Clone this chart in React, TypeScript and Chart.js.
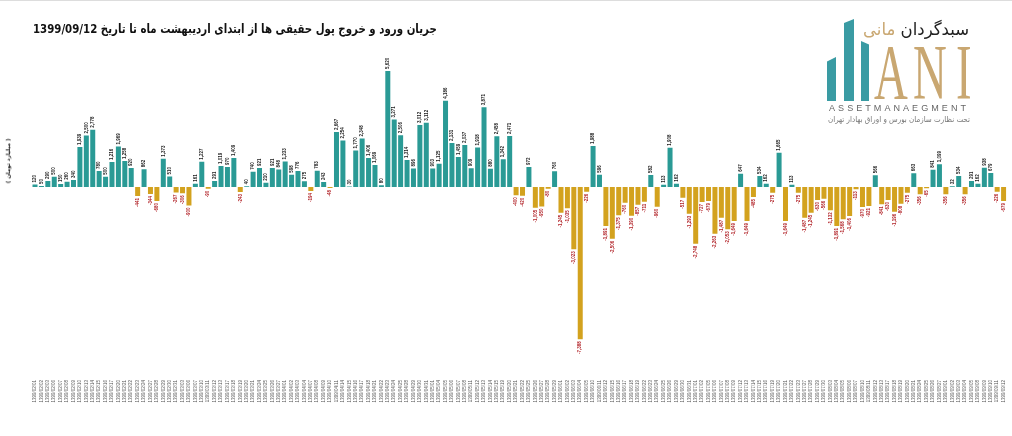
import { useEffect, useRef, useState } from 'react';
import type { CSSProperties, ReactNode } from 'react';
import { Chart, registerables } from 'chart.js';

Chart.register(...registerables);

// trading days, 1399/02/01 .. 1399/09/12
const dates = [
  '1399/02/01', '1399/02/02', '1399/02/03', '1399/02/06', '1399/02/07', '1399/02/08', '1399/02/09', '1399/02/10',
  '1399/02/13', '1399/02/14', '1399/02/15', '1399/02/16', '1399/02/17', '1399/02/20', '1399/02/21', '1399/02/22',
  '1399/02/23', '1399/02/24', '1399/02/27', '1399/02/28', '1399/02/29', '1399/02/30', '1399/02/31',
  '1399/03/03', '1399/03/06', '1399/03/07', '1399/03/10', '1399/03/11', '1399/03/12', '1399/03/13', '1399/03/17',
  '1399/03/18', '1399/03/19', '1399/03/20', '1399/03/21', '1399/03/24', '1399/03/25', '1399/03/26', '1399/03/27',
  '1399/04/01', '1399/04/02', '1399/04/03', '1399/04/04', '1399/04/07', '1399/04/08', '1399/04/09', '1399/04/10',
  '1399/04/11', '1399/04/14', '1399/04/15', '1399/04/16', '1399/04/17', '1399/04/18', '1399/04/21', '1399/04/22',
  '1399/04/23', '1399/04/24', '1399/04/25', '1399/04/28', '1399/04/29', '1399/04/30', '1399/04/31',
  '1399/05/01', '1399/05/04', '1399/05/05', '1399/05/06', '1399/05/07', '1399/05/08', '1399/05/11', '1399/05/12',
  '1399/05/13', '1399/05/14', '1399/05/15', '1399/05/19', '1399/05/20', '1399/05/21', '1399/05/22', '1399/05/25',
  '1399/05/26', '1399/05/27', '1399/05/28', '1399/05/29',
  '1399/06/01', '1399/06/02', '1399/06/03', '1399/06/04', '1399/06/05', '1399/06/10', '1399/06/11', '1399/06/12',
  '1399/06/15', '1399/06/16', '1399/06/17', '1399/06/18', '1399/06/19', '1399/06/22', '1399/06/23', '1399/06/24',
  '1399/06/25', '1399/06/26', '1399/06/29', '1399/06/30', '1399/06/31',
  '1399/07/01', '1399/07/02', '1399/07/05', '1399/07/06', '1399/07/07', '1399/07/08', '1399/07/09', '1399/07/12',
  '1399/07/13', '1399/07/14', '1399/07/15', '1399/07/16', '1399/07/19', '1399/07/20', '1399/07/21', '1399/07/22',
  '1399/07/23', '1399/07/27', '1399/07/28', '1399/07/29', '1399/07/30',
  '1399/08/03', '1399/08/04', '1399/08/05', '1399/08/06', '1399/08/07', '1399/08/10', '1399/08/11', '1399/08/12',
  '1399/08/13', '1399/08/17', '1399/08/18', '1399/08/19', '1399/08/20', '1399/08/21', '1399/08/24', '1399/08/25',
  '1399/08/26', '1399/08/27',
  '1399/09/01', '1399/09/02', '1399/09/03', '1399/09/04', '1399/09/05', '1399/09/08', '1399/09/09', '1399/09/10',
  '1399/09/11', '1399/09/12',
];

// net real-investor money flow (billion toman)
const netFlow = [
  120, 50, 290, 500, 150, 260, 340, 1939, 2500, 2778, 780, 500, 1216, 1969, 1258, 920,
  -441, 862, -344, -680, 1373, 510, -267, -306, -900, 161, 1227, -90, 291, 1019, 970, 1409,
  -243, 40, 740, 921, 210, 921, 848, 1233, 598, 776, 275, -194, 783, 243, -48, 2667,
  2254, 30, 1770, 2348, 1406, 1069, 80, 5620, 3271, 2506, 1314, 896, 3012, 3112, 903, 1125,
  4186, 2131, 1459, 2037, 909, 1918, 3871, 880, 2458, 1342, 2471, -400, -420, 972, -1005, -950,
  -80, 760, -1245, -1035, -3023, -7388, -226, 1988, 596, -1891, -2506, -1375, -760, -1390, -857, -711,
  582, -960, 113, 1908, 162, -517, -1293, -2748, -727, -679, -2263, -1487, -2053, -1649, 647, -1649,
  -485, 534, 162, -275, 1665, -1649, 113, -275, -1487, -1245, -630, -566, -1132, -1891, -1568, -1406,
  -113, -970, -921, 566, -841, -630, -1196, -808, -275, 663, -356, -65, 841, 1099, -356, 32,
  534, -356, 291, 162, 938, 679, -226, -679,
];

const TEAL = '#2a9a95';
const GOLD = '#d3a21e';

const barLabels = {
  id: 'barLabels',
  afterDatasetsDraw(chart: any) {
    const { ctx } = chart;
    const meta = chart.getDatasetMeta(0);
    ctx.save();
    ctx.font = 'bold 4.5px "Liberation Sans"';
    ctx.textBaseline = 'middle';
    meta.data.forEach((bar: any, i: number) => {
      const v = netFlow[i];
      ctx.save();
      ctx.translate(bar.x, v >= 0 ? bar.y - 2 : bar.y + 2);
      ctx.rotate(-Math.PI / 2);
      ctx.textAlign = v >= 0 ? 'left' : 'right';
      ctx.fillStyle = v >= 0 ? '#222' : '#b3262b';
      ctx.fillText(v.toLocaleString('en-US'), 0, 0);
      ctx.restore();
    });
    ctx.restore();
  },
};

function FlowChart() {
  const canvasRef = useRef<HTMLCanvasElement>(null);
  const chartRef = useRef<Chart | null>(null);

  useEffect(() => {
    if (!canvasRef.current) return;
    if (chartRef.current) chartRef.current.destroy();

    chartRef.current = new Chart(canvasRef.current, {
      type: 'bar',
      data: {
        labels: dates,
        datasets: [
          {
            data: netFlow,
            backgroundColor: netFlow.map((v) => (v >= 0 ? TEAL : GOLD)),
            barPercentage: 0.78,
            categoryPercentage: 1,
          },
        ],
      },
      options: {
        responsive: false,
        animation: false,
        layout: { padding: { left: 31.8, right: 2.8, top: 60, bottom: 0 } },
        scales: {
          x: {
            grid: { display: false, drawTicks: false },
            border: { display: false },
            afterFit: (scale: any) => {
              scale.height = 60;
            },
            ticks: {
              autoSkip: false,
              minRotation: 90,
              maxRotation: 90,
              padding: 3,
              color: '#555',
              font: { size: 4.5, family: 'Liberation Sans' },
            },
          },
          y: { display: false, min: -9215, max: 6111 },
        },
        plugins: {
          legend: { display: false },
          tooltip: { enabled: false },
        },
      },
      plugins: [barLabels],
    });

    return () => {
      if (chartRef.current) {
        chartRef.current.destroy();
        chartRef.current = null;
      }
    };
  }, []);

  return (
    <canvas
      ref={canvasRef}
      width={1012}
      height={436}
      style={{ position: 'absolute', left: 0, top: 0, width: '1012px', height: '436px' }}
    />
  );
}

// text squeezed / stretched to a given box width, right edge anchored
function FitText({ right, top, width, style, rtl, children }: {
  right: number; top: number; width: number; style: CSSProperties; rtl?: boolean; children: ReactNode;
}) {
  const ref = useRef<HTMLDivElement>(null);
  const [sx, setSx] = useState(1);
  useEffect(() => {
    if (ref.current) {
      const w = ref.current.scrollWidth;
      if (w > 0) setSx(width / w);
    }
  }, [width]);
  return (
    <div
      ref={ref}
      dir={rtl ? 'rtl' : 'ltr'}
      style={{
        position: 'absolute',
        right: 1012 - right,
        top,
        whiteSpace: 'nowrap',
        transform: `scaleX(${sx})`,
        transformOrigin: 'right top',
        ...style,
      }}
    >
      {children}
    </div>
  );
}

function Logo() {
  const letter = (ch: string, left: number) => (
    <span
      style={{
        position: 'absolute',
        left,
        top: 32,
        fontFamily: '"Liberation Serif", serif',
        fontSize: 78,
        lineHeight: '78px',
        color: '#c9a771',
        transform: 'scaleX(0.6)',
        transformOrigin: 'left top',
      }}
    >
      {ch}
    </span>
  );
  return (
    <>
      <div style={{ position: 'absolute', left: 827, top: 56, width: 9, height: 44, background: '#3a9ba3', clipPath: 'polygon(0 10%, 100% 0, 100% 100%, 0 100%)' }} />
      <div style={{ position: 'absolute', left: 844, top: 18, width: 10, height: 82, background: '#3a9ba3', clipPath: 'polygon(0 5%, 100% 0, 100% 100%, 0 100%)' }} />
      <div style={{ position: 'absolute', left: 861, top: 40, width: 8, height: 60, background: '#3a9ba3', clipPath: 'polygon(0 0, 100% 6%, 100% 100%, 0 100%)' }} />
      {letter('A', 874)}
      {letter('N', 913)}
      {letter('I', 956)}
      <FitText right={969} top={17} width={106} rtl style={{ fontFamily: '"DejaVu Sans", sans-serif', fontSize: 17, lineHeight: '22px' }}>
        <span style={{ color: '#222' }}>سبدگردان</span> <span style={{ color: '#c9a771' }}>مانی</span>
      </FitText>
      <FitText right={969} top={102} width={140} style={{ fontFamily: '"Liberation Sans", sans-serif', fontSize: 9, letterSpacing: '3px', color: '#666' }}>
        ASSETMANAEGMENT
      </FitText>
      <FitText right={970} top={114} width={142} rtl style={{ fontFamily: '"DejaVu Sans", sans-serif', fontSize: 8, color: '#777' }}>
        تحت نظارت سازمان بورس و اوراق بهادار تهران
      </FitText>
    </>
  );
}

export default function App() {
  return (
    <div
      style={{
        position: 'absolute',
        left: 0,
        top: 0,
        width: 1012,
        height: 436,
        background: '#fff',
        borderTop: '1px solid #ddd',
        boxSizing: 'border-box',
        overflow: 'hidden',
      }}
    >
      <FlowChart />
      <FitText
        right={437}
        top={18}
        width={404}
        rtl
        style={{ fontFamily: '"DejaVu Sans", sans-serif', fontWeight: 'bold', fontSize: 13, lineHeight: '20px', color: '#111' }}
      >
        جریان ورود و خروج پول حقیقی ها از ابتدای اردیبهشت ماه تا تاریخ 1399/09/12
      </FitText>
      <div
        dir="rtl"
        style={{
          position: 'absolute',
          left: 8,
          top: 160,
          fontFamily: '"DejaVu Sans", sans-serif',
          fontWeight: 'bold',
          fontSize: 5.5,
          color: '#222',
          whiteSpace: 'nowrap',
          transform: 'translate(-50%, -50%) rotate(-90deg)',
        }}
      >
        ( میلیارد تومان )
      </div>
      <Logo />
    </div>
  );
}
